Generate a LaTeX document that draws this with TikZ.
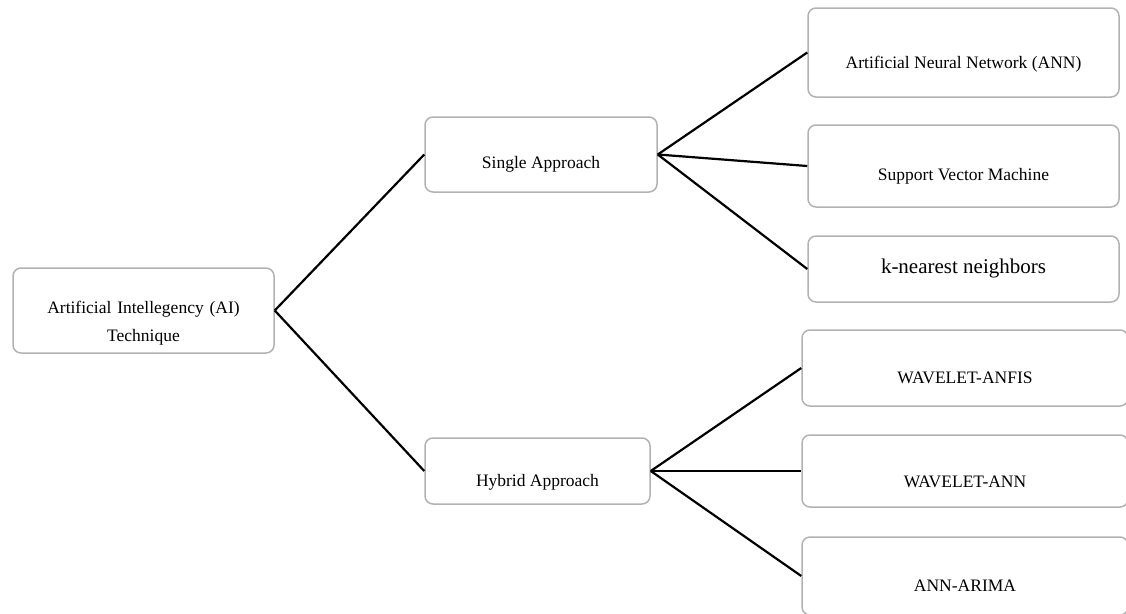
\documentclass[tikz,border=0pt]{standalone}
\usepackage{fontspec}
\setmainfont{Liberation Serif}

\begin{document}
\begin{tikzpicture}[x=1pt,y=-1pt,
  box/.style={draw=black!30,line width=1.5pt,rounded corners=8pt,inner sep=0pt,
    font=\fontsize{17.5}{28}\selectfont},
  link/.style={line width=2.2pt}]
\useasboundingbox (0,0) rectangle (1126,613);

\node[box,text width=261pt,align=center,text height=45pt,text depth=40pt](ai) at (143.5,310.5) {Artificial Intellegency (AI)\\Technique};
\node[box,minimum width=232pt,text height=51pt,text depth=24pt](single) at (541,154.5) {Single Approach};
\node[box,minimum width=225pt,text height=48pt,text depth=18pt](hybrid) at (537.5,471) {Hybrid Approach};
\node[box,minimum width=311pt,text height=60pt,text depth=29pt](ann) at (963.5,52.5) {Artificial Neural Network (ANN)};
\node[box,minimum width=311pt,text height=55pt,text depth=27pt](svm) at (963.5,166) {Support Vector Machine};
\node[box,minimum width=311pt,text height=37pt,text depth=29pt,font=\fontsize{21}{25}\selectfont](knn) at (963.5,269) {k-nearest neighbors};
\node[box,minimum width=326pt,text height=53pt,text depth=23pt](wanfis) at (965,368) {WAVELET-ANFIS};
\node[box,minimum width=326pt,text height=52pt,text depth=20pt](wann) at (965,471) {WAVELET-ANN};
\node[box,minimum width=326pt,text height=54pt,text depth=24pt](arima) at (965,576) {ANN-ARIMA};

\draw[link] (ai.east) -- (single.west);
\draw[link] (ai.east) -- (hybrid.west);
\draw[link] (single.east) -- (ann.west);
\draw[link] (single.east) -- (svm.west);
\draw[link] (single.east) -- (knn.west);
\draw[link] (hybrid.east) -- (wanfis.west);
\draw[link] (hybrid.east) -- (wann.west);
\draw[link] (hybrid.east) -- (arima.west);
\end{tikzpicture}
\end{document}
